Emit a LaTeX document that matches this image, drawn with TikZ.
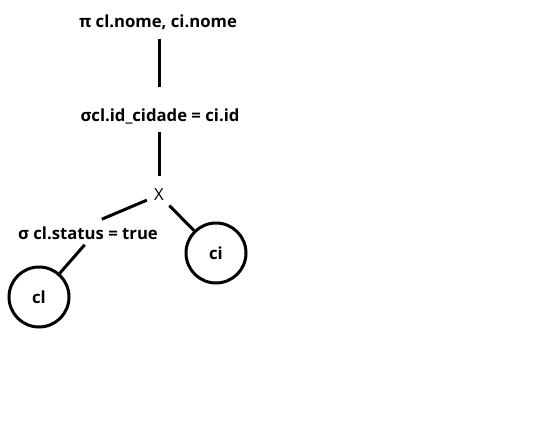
\documentclass[tikz,border=0pt]{standalone}
\usepackage{fontspec}
\setmainfont{Open Sans}
\begin{document}
\begin{tikzpicture}[x=1pt, y=-1pt, line width=3pt,
    every node/.style={font=\bfseries\fontsize{16.7}{19}\selectfont, inner sep=0pt},
    rel/.style={circle, draw, minimum size=60pt}]
  \useasboundingbox (0, 0) rectangle (551, 431);
  \node (proj) at (158, 22) {π cl.nome, ci.nome};
  \node (join) at (160, 116) {σcl.id\_cidade = ci.id};
  \node[inner sep=4pt, font=\fontsize{16.7}{19}\selectfont] (cross) at (159, 195) {X};
  \node (stat) at (88, 233) {σ cl.status = true};
  \node[rel] (cl) at (39, 297) {cl};
  \node[rel] (ci) at (216, 253) {ci};
  \draw[shorten <=8pt, shorten >=20pt] (proj.south -| cross) -- (join.north -| cross);
  \draw[shorten <=7pt, shorten >=8pt] (join.south -| cross) -- (cross.north);
  \draw[shorten <=2pt, shorten >=15pt] (cross) -- (stat.north);
  \draw (cross) -- (ci);
  \draw[shorten <=5pt] (stat.south) -- (cl);
\end{tikzpicture}
\end{document}
